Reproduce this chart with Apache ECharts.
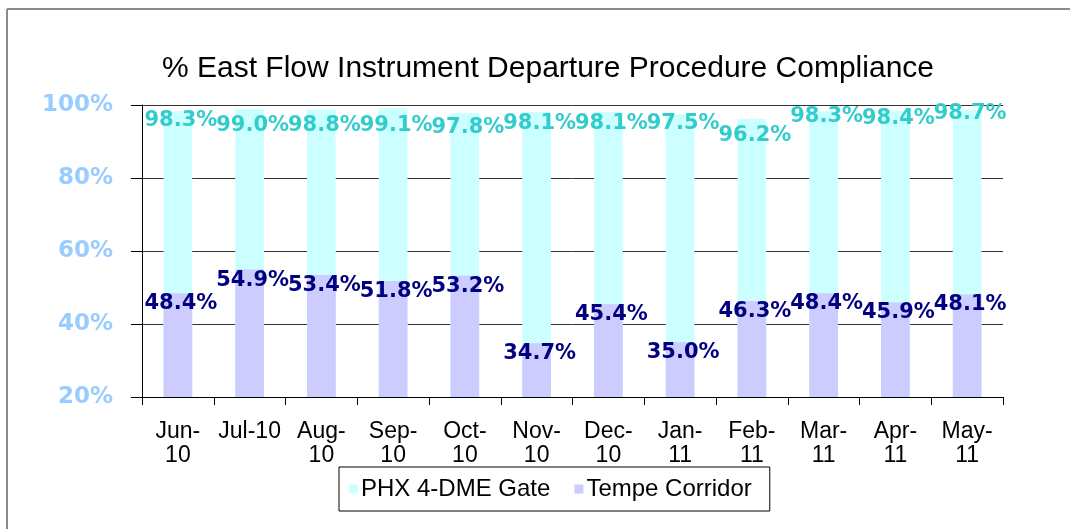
<!DOCTYPE html>
<html>
<head>
<meta charset="utf-8">
<script src="https://cdn.jsdelivr.net/npm/echarts@6/dist/echarts.min.js"></script>
<style>
html,body{margin:0;padding:0;background:#fff;}
#c{width:1070px;height:529px;}
</style>
</head>
<body>
<div id="c"></div>
<script>
const categories = ['Jun-10','Jul-10','Aug-10','Sep-10','Oct-10','Nov-10','Dec-10','Jan-11','Feb-11','Mar-11','Apr-11','May-11'];
const tickLabels = ['Jun-\n10','Jul-10','Aug-\n10','Sep-\n10','Oct-\n10','Nov-\n10','Dec-\n10','Jan-\n11','Feb-\n11','Mar-\n11','Apr-\n11','May-\n11'];
const phxGate = [98.3, 99.0, 98.8, 99.1, 97.8, 98.1, 98.1, 97.5, 96.2, 98.3, 98.4, 98.7];
const tempeCorridor = [48.4, 54.9, 53.4, 51.8, 53.2, 34.7, 45.4, 35.0, 46.3, 48.4, 45.9, 48.1];
const yTicks = [20, 40, 60, 80, 100];

// label nudges (style only): vertical shift of the PHX labels, as Excel placed them
const phxLabelNudge = [-1, 6, 6, 7, 4, 1, 1, -1, 6, -5, -3, -7];

const chart = echarts.init(document.getElementById('c'), null, {renderer: 'canvas'});
const fmt = p => p.value.toFixed(1) + '%';

chart.setOption({
  animation: false,
  backgroundColor: '#fff',
  title: {
    text: '% East Flow Instrument Departure Procedure Compliance',
    left: 543, top: 49, textAlign: 'center',
    textStyle: {fontFamily: 'Liberation Sans, Arial', fontWeight: 'normal', fontSize: 30, color: '#000'}
  },
  graphic: [
    {type: 'line', shape: {x1: 7, y1: 9, x2: 1070, y2: 9}, style: {stroke: '#8a8a8a', lineWidth: 2}},
    {type: 'line', shape: {x1: 7, y1: 9, x2: 7, y2: 529}, style: {stroke: '#8a8a8a', lineWidth: 2}}
  ],
  legend: {
    data: ['PHX 4-DME Gate', 'Tempe Corridor'],
    left: 339, top: 467,
    padding: [10, 18, 10, 10],
    borderColor: '#000', borderWidth: 1,
    icon: 'rect', itemWidth: 9, itemHeight: 9, itemGap: 24,
    textStyle: {fontFamily: 'Liberation Sans, Arial', fontSize: 24, color: '#000', padding: [0,0,0,-2]}
  },
  grid: {left: 142, right: 67, top: 105, bottom: 132, containLabel: false},
  xAxis: {
    type: 'category',
    data: categories,
    axisLine: {show: true, lineStyle: {color: '#000', width: 1}},
    axisTick: {show: true, interval: 0, length: 8, lineStyle: {color: '#000'}},
    axisLabel: {
      interval: 0, margin: 23, lineHeight: 24,
      fontFamily: 'Liberation Sans, Arial', fontSize: 23, color: '#000',
      formatter: (v, i) => tickLabels[i]
    },
    splitLine: {show: false}
  },
  yAxis: {
    type: 'value', min: yTicks[0], max: yTicks[yTicks.length - 1], interval: 20,
    axisLine: {show: true, lineStyle: {color: '#000', width: 1}},
    axisTick: {show: true, length: 11, lineStyle: {color: '#000'}},
    axisLabel: {
      formatter: '{value}%', margin: 29,
      fontFamily: 'DejaVu Sans', fontWeight: 'bold', fontSize: 23, color: '#99ccff'
    },
    splitLine: {show: true, lineStyle: {color: '#333', width: 1}}
  },
  series: [
    {
      name: 'PHX 4-DME Gate', type: 'bar', barWidth: '40%', barGap: '-100%',
      itemStyle: {color: '#ccffff'},
      data: phxGate.map((v, i) => ({value: v, label: {offset: [3, phxLabelNudge[i]]}})),
      label: {
        show: true, position: 'insideTop', distance: 0, formatter: fmt,
        fontFamily: 'DejaVu Sans', fontWeight: 'bold', fontSize: 21, color: '#33cccc'
      }
    },
    {
      name: 'Tempe Corridor', type: 'bar', barWidth: '40%', barGap: '-100%',
      itemStyle: {color: '#ccccff'},
      data: tempeCorridor,
      label: {
        show: true, position: 'insideTop', distance: 0, offset: [3, 0], formatter: fmt,
        fontFamily: 'DejaVu Sans', fontWeight: 'bold', fontSize: 21, color: '#000080'
      }
    }
  ]
});
</script>
</body>
</html>
